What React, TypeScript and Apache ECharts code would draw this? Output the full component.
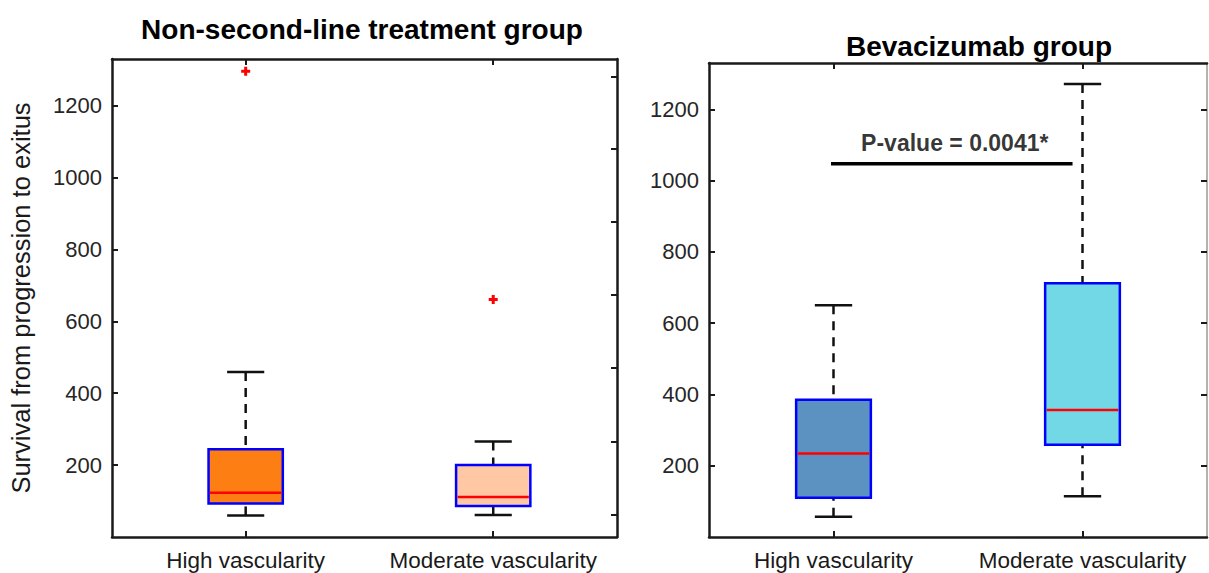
import React, { useEffect, useRef } from "react";
import * as echarts from "echarts";

// ---------- data ----------
const categories = ["High vascularity", "Moderate vascularity"];
const yTickValues = [200, 400, 600, 800, 1000, 1200];
const leftRightTickValues = [62, 266, 470, 674, 878, 1080, 1282];

// Non-second-line treatment group
const leftMin = [60, 61];
const leftQ1 = [93, 86];
const leftMedian = [123, 111];
const leftQ3 = [244, 200];
const leftMax = [459, 266];
const leftOutlierX = [1, 2];
const leftOutlierY = [1296, 661];
const leftColors = ["#FD7F14", "#FFC8A4"];

// Bevacizumab group
const rightMin = [57, 114];
const rightQ1 = [110, 259];
const rightMedian = [234, 356];
const rightQ3 = [385, 712];
const rightMax = [650, 1271];
const rightColors = ["#5B92C2", "#72D8E6"];

const pLabel = "P-value = 0.0041*";
const pLineX = [0.99, 1.96];
const pLineY = 1047;

const FONT = 'Arial, "Liberation Sans", sans-serif';

function boxData(mins: number[], q1: number[], med: number[], q3: number[], maxs: number[]) {
  return mins.map((_, i) => [i + 1, mins[i], q1[i], med[i], q3[i], maxs[i], i]);
}

function makeRenderItem(colors: string[]) {
  return (params: any, api: any) => {
    const x = api.value(0);
    const pMin = api.coord([x, api.value(1)]);
    const pQ1 = api.coord([x, api.value(2)]);
    const pMed = api.coord([x, api.value(3)]);
    const pQ3 = api.coord([x, api.value(4)]);
    const pMax = api.coord([x, api.value(5)]);
    const idx = api.value(6);
    const w = api.size([0.3, 0])[0];
    const cw = api.size([0.15, 0])[0];
    const cx = pMed[0];
    const black = "#111";
    return {
      type: "group",
      children: [
        {
          type: "line",
          shape: { x1: cx, y1: pMax[1], x2: cx, y2: pQ3[1] },
          style: { stroke: black, lineWidth: 2.5, lineDash: [9, 7] },
        },
        {
          type: "line",
          shape: { x1: cx, y1: pMin[1], x2: cx, y2: pQ1[1] },
          style: { stroke: black, lineWidth: 2.5, lineDash: [9, 7] },
        },
        {
          type: "line",
          shape: { x1: cx - cw / 2, y1: pMax[1], x2: cx + cw / 2, y2: pMax[1] },
          style: { stroke: black, lineWidth: 2.5 },
        },
        {
          type: "line",
          shape: { x1: cx - cw / 2, y1: pMin[1], x2: cx + cw / 2, y2: pMin[1] },
          style: { stroke: black, lineWidth: 2.5 },
        },
        {
          type: "rect",
          shape: { x: cx - w / 2, y: pQ3[1], width: w, height: pQ1[1] - pQ3[1] },
          style: { fill: colors[idx], stroke: "#0000FF", lineWidth: 2.5 },
        },
        {
          type: "line",
          shape: { x1: cx - w / 2 + 1.5, y1: pMed[1], x2: cx + w / 2 - 1.5, y2: pMed[1] },
          style: { stroke: "#FF0000", lineWidth: 2.5 },
        },
      ],
    };
  };
}

const PLUS = "path://M3,0H6V3H9V6H6V9H3V6H0V3H3Z";

function xAxes(gridIndex: number, min: number) {
  const common = {
    type: "value",
    gridIndex,
    min,
    max: 2.5,
    axisLine: { show: true, onZero: false, lineStyle: { color: "#1a1a1a", width: 2.5 } },
    splitLine: { show: false },
  };
  return [
    {
      ...common,
      position: "bottom",
      axisTick: { show: true, inside: true, length: 6, customValues: [1, 2], lineStyle: { color: "#1a1a1a", width: 2 } },
      axisLabel: {
        show: true,
        customValues: [1, 2],
        formatter: (v: number) => categories[Math.round(v) - 1] || "",
        color: "#1a1a1a",
        fontSize: 22.5,
        fontFamily: FONT,
        margin: 12,
      },
    },
    {
      ...common,
      position: "top",
      axisTick: { show: true, inside: true, length: 6, customValues: [1, 2], lineStyle: { color: "#1a1a1a", width: 2 } },
      axisLabel: { show: false },
    },
  ];
}

function yAxes(gridIndex: number, labelSize: number, rightTicks: number[], withName: boolean, rightLine: any) {
  const common = {
    type: "value",
    gridIndex,
    min: 0,
    max: 1330,
    splitLine: { show: false },
  };
  return [
    {
      ...common,
      position: "left",
      axisLine: { show: true, onZero: false, lineStyle: { color: "#1a1a1a", width: 2.5 } },
      name: withName ? "Survival from progression to exitus" : "",
      nameLocation: "middle",
      nameRotate: 90,
      nameGap: 78,
      nameTextStyle: { color: "#1a1a1a", fontSize: 25.5, fontFamily: FONT },
      axisTick: { show: true, inside: true, length: 6, customValues: yTickValues, lineStyle: { color: "#1a1a1a", width: 2 } },
      axisLabel: {
        show: true,
        customValues: yTickValues,
        formatter: (v: number) => String(v),
        color: "#262626",
        fontSize: labelSize,
        fontFamily: FONT,
        margin: 10,
      },
    },
    {
      ...common,
      position: "right",
      axisLine: { show: true, onZero: false, lineStyle: rightLine },
      axisTick: { show: true, inside: true, length: 6, customValues: rightTicks, lineStyle: { color: "#1a1a1a", width: 2 } },
      axisLabel: { show: false },
    },
  ];
}

export default function App() {
  const ref = useRef<HTMLDivElement>(null);
  useEffect(() => {
    if (!ref.current) return;
    const chart = echarts.init(ref.current, undefined, { renderer: "svg" });
    const option: any = {
      animation: false,
      backgroundColor: "#ffffff",
      title: [
        {
          text: "Non-second-line treatment group",
          left: 357,
          top: 10,
          textAlign: "center",
          textStyle: { fontSize: 28, fontWeight: "bold", color: "#000", fontFamily: FONT },
        },
        {
          text: "Bevacizumab group",
          left: 974,
          top: 27,
          textAlign: "center",
          textStyle: { fontSize: 28, fontWeight: "bold", color: "#000", fontFamily: FONT },
        },
      ],
      grid: [
        { left: 112, top: 59, width: 505, height: 478, show: false },
        { left: 709, top: 63, width: 498, height: 474, show: false },
      ],
      xAxis: [...xAxes(0, 0.46), ...xAxes(1, 0.5)],
      yAxis: [
        ...yAxes(0, 22, leftRightTickValues, true, { color: "#1a1a1a", width: 2.5 }),
        ...yAxes(1, 22, yTickValues, false, { color: "#999", width: 1.5 }),
      ],
      series: [
        {
          type: "custom",
          xAxisIndex: 0,
          yAxisIndex: 0,
          renderItem: makeRenderItem(leftColors),
          data: boxData(leftMin, leftQ1, leftMedian, leftQ3, leftMax),
          encode: { x: 0, y: [1, 2, 3, 4, 5] },
        },
        {
          type: "scatter",
          xAxisIndex: 0,
          yAxisIndex: 0,
          symbol: PLUS,
          symbolSize: 9,
          itemStyle: { color: "#FF0000", opacity: 1 },
          data: leftOutlierX.map((x, i) => [x, leftOutlierY[i]]),
        },
        {
          type: "custom",
          xAxisIndex: 2,
          yAxisIndex: 2,
          renderItem: makeRenderItem(rightColors),
          data: boxData(rightMin, rightQ1, rightMedian, rightQ3, rightMax),
          encode: { x: 0, y: [1, 2, 3, 4, 5] },
        },
        {
          type: "line",
          xAxisIndex: 2,
          yAxisIndex: 2,
          symbol: "none",
          lineStyle: { color: "#000", width: 3.5 },
          data: pLineX.map((x) => [x, pLineY]),
        },
        {
          type: "scatter",
          xAxisIndex: 2,
          yAxisIndex: 2,
          symbolSize: 0,
          label: {
            show: true,
            position: "top",
            distance: 9,
            offset: [3, 0],
            formatter: pLabel,
            fontSize: 23,
            fontWeight: "bold",
            color: "#000",
            fontFamily: FONT,
          },
          data: [[(pLineX[0] + pLineX[1]) / 2, pLineY]],
        },
      ],
    };
    chart.setOption(option);
    return () => chart.dispose();
  }, []);
  return (
    <div
      ref={ref}
      style={{ position: "fixed", left: 0, top: 0, width: 1209, height: 573, background: "#fff" }}
    />
  );
}
